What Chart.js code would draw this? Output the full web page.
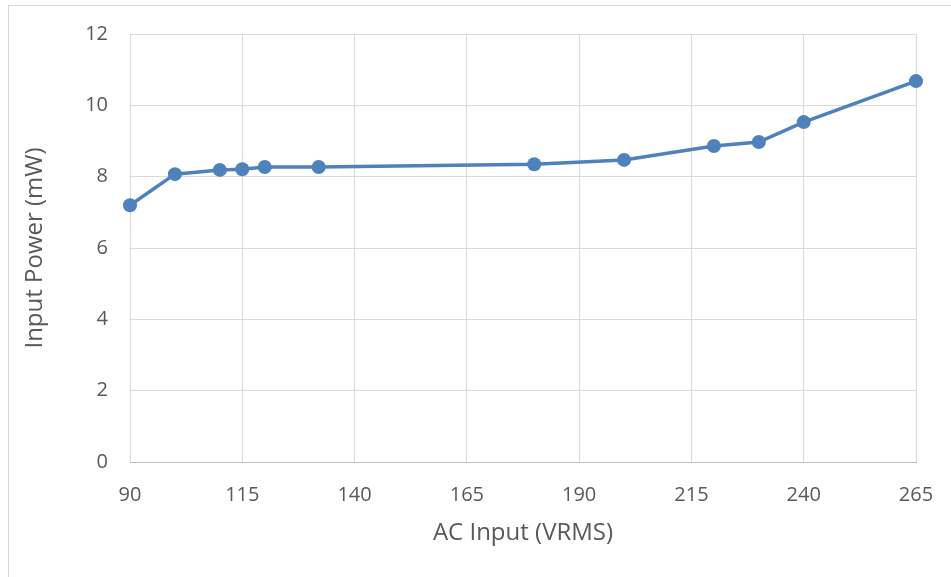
<!DOCTYPE html>
<html>
<head>
<meta charset="utf-8">
<script src="https://cdn.jsdelivr.net/npm/chart.js@4/dist/chart.umd.min.js"></script>
<style>
  html, body { margin: 0; padding: 0; background: #fff; }
  #wrap { position: relative; width: 951px; height: 577px; overflow: hidden; }
  #frame { position: absolute; left: 8px; top: 5px; width: 1000px; height: 700px; border: 1px solid #d9d9d9; box-sizing: border-box; }
  #c { position: absolute; left: 0; top: 0; }
</style>
</head>
<body>
<div id="wrap">
  <div id="frame"></div>
  <canvas id="c" width="951" height="577"></canvas>
</div>
<script>
// AC input voltage (VRMS) and measured input power (mW)
const acInput    = [90, 100, 110, 115, 120, 132, 180, 200, 220, 230, 240, 265];
const inputPower = [7.2, 8.07, 8.19, 8.21, 8.27, 8.27, 8.35, 8.47, 8.86, 8.97, 9.53, 10.68];
const xTicks = [90, 115, 140, 165, 190, 215, 240, 265];
const yTicks = [0, 2, 4, 6, 8, 10, 12];

const points = acInput.map((v, i) => ({ x: v, y: inputPower[i] }));
const blue = '#4f81bd';
const textColor = '#595959';
const font = '"Open Sans", sans-serif';

new Chart(document.getElementById('c'), {
  type: 'scatter',
  data: {
    datasets: [{
      data: points,
      showLine: true,
      clip: false,
      borderColor: blue,
      backgroundColor: blue,
      borderWidth: 3.5,
      pointRadius: 7,
      pointHoverRadius: 7,
      pointBorderWidth: 0,
      tension: 0
    }]
  },
  options: {
    responsive: false,
    animation: false,
    devicePixelRatio: 1,
    layout: { padding: { top: 34, right: 35, left: 21, bottom: 29 } },
    plugins: { legend: { display: false }, tooltip: { enabled: false } },
    scales: {
      x: {
        type: 'linear',
        min: xTicks[0],
        max: xTicks[xTicks.length - 1],
        afterBuildTicks: s => { s.ticks = xTicks.map(v => ({ value: v })); },
        afterFit: s => { s.height = 86; s.paddingLeft = 0; s.paddingRight = 0; },
        grid: { color: '#d9d9d9', lineWidth: 1, drawTicks: false },
        border: { color: '#bfbfbf', width: 1 },
        ticks: { color: textColor, font: { family: font, size: 20 }, padding: 21, maxRotation: 0 },
        title: { display: true, text: 'AC Input (VRMS)', color: textColor, font: { family: font, size: 24 }, padding: { top: 8, bottom: 0 } }
      },
      y: {
        min: yTicks[0],
        max: yTicks[yTicks.length - 1],
        afterBuildTicks: s => { s.ticks = yTicks.map(v => ({ value: v })); },
        afterFit: s => { s.width = 109; s.paddingTop = 0; s.paddingBottom = 0; },
        grid: { color: '#d9d9d9', lineWidth: 1, drawTicks: false },
        border: { display: false },
        ticks: { color: textColor, font: { family: font, size: 20 }, padding: 22 },
        title: { display: true, text: 'Input Power (mW)', color: textColor, font: { family: font, size: 24 }, padding: { top: 0, bottom: 0 } }
      }
    }
  }
});
</script>
</body>
</html>
